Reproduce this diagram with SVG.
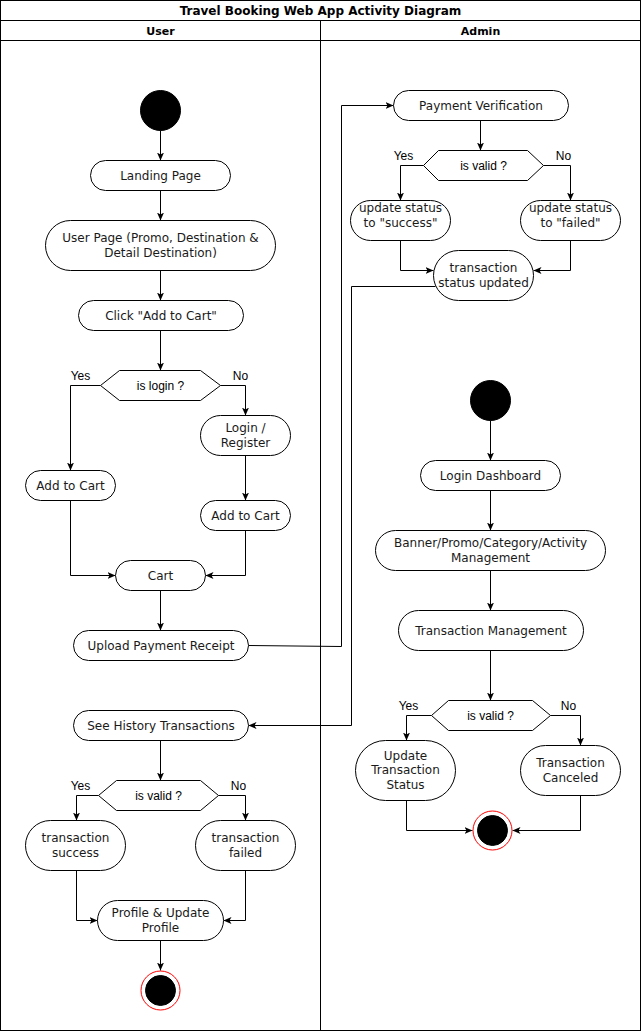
<svg xmlns="http://www.w3.org/2000/svg" width="641" height="1031" viewBox="0 0 641 1031">
<style>
.n{fill:#fff;stroke:#000;stroke-width:1}
.t{font-family:"DejaVu Sans",sans-serif;font-size:12px;fill:#1a1a1a;text-anchor:middle}
.l{font-family:"Liberation Sans",Arial,sans-serif;font-size:12px;fill:#000;text-anchor:middle}
.c{fill:none;stroke:#000;stroke-width:1}
.h{font-family:"DejaVu Sans",sans-serif;font-weight:bold;fill:#000;text-anchor:middle}
</style>
<defs>
<marker id="a" viewBox="0 0 8 8" refX="8" refY="4" markerWidth="8" markerHeight="8" markerUnits="userSpaceOnUse" orient="auto">
<path d="M0,0.5 L8,4 L0,7.5 L2,4 Z" fill="#000"/>
</marker>
</defs>
<rect width="641" height="1031" fill="#fff"/>
<g transform="translate(0.5,0.5)">
<g id="frame">
<rect x="0" y="0" width="640" height="1030" fill="none" stroke="#000"/>
<line x1="0" y1="20" x2="640" y2="20" stroke="#000"/>
<line x1="0" y1="40" x2="640" y2="40" stroke="#000"/>
<line x1="320" y1="20" x2="320" y2="1030" stroke="#000"/>
<text class="h" x="320" y="14.5" font-size="12">Travel Booking Web App Activity Diagram</text>
<text class="h" x="160" y="34" font-size="11">User</text>
<text class="h" x="480" y="34" font-size="11">Admin</text>
</g>
<g id="connectors">
<path class="c" marker-end="url(#a)" d="M160,130 V160"/>
<path class="c" marker-end="url(#a)" d="M160,190 V220"/>
<path class="c" marker-end="url(#a)" d="M160,270 V300"/>
<path class="c" marker-end="url(#a)" d="M160,330 V370"/>
<path class="c" marker-end="url(#a)" d="M100,385 H70 V470"/>
<path class="c" marker-end="url(#a)" d="M220,385 H245 V415"/>
<path class="c" marker-end="url(#a)" d="M245,455 V500"/>
<path class="c" marker-end="url(#a)" d="M70,500 V575 H115"/>
<path class="c" marker-end="url(#a)" d="M245,530 V575 H205"/>
<path class="c" marker-end="url(#a)" d="M160,590 V630"/>
<path class="c" marker-end="url(#a)" d="M248,645 L341,646 V105 H393"/>
<path class="c" marker-end="url(#a)" d="M480,120 V150"/>
<path class="c" marker-end="url(#a)" d="M423,165 H400 V200"/>
<path class="c" marker-end="url(#a)" d="M543,165 H570 V200"/>
<path class="c" marker-end="url(#a)" d="M400,240 V270 H433"/>
<path class="c" marker-end="url(#a)" d="M570,240 V270 H533"/>
<path class="c" marker-end="url(#a)" d="M435,286 H351 V725 H248"/>
<path class="c" marker-end="url(#a)" d="M160,740 V780"/>
<path class="c" marker-end="url(#a)" d="M98,795 H76 V820"/>
<path class="c" marker-end="url(#a)" d="M218,795 H245 V820"/>
<path class="c" marker-end="url(#a)" d="M76,870 V920 H97"/>
<path class="c" marker-end="url(#a)" d="M245,870 V920 H223"/>
<path class="c" marker-end="url(#a)" d="M160,940 V970"/>
<path class="c" marker-end="url(#a)" d="M490,420 V460"/>
<path class="c" marker-end="url(#a)" d="M490,490 V530"/>
<path class="c" marker-end="url(#a)" d="M490,570 V610"/>
<path class="c" marker-end="url(#a)" d="M490,650 V700"/>
<path class="c" marker-end="url(#a)" d="M431,715 H406 V740"/>
<path class="c" marker-end="url(#a)" d="M550,715 H580 V745"/>
<path class="c" marker-end="url(#a)" d="M406,800 V830 H472"/>
<path class="c" marker-end="url(#a)" d="M580,795 V830 H512"/>
<text class="l" x="80" y="379">Yes</text>
<text class="l" x="240" y="379">No</text>
<text class="l" x="403" y="159">Yes</text>
<text class="l" x="563" y="159">No</text>
<text class="l" x="80" y="789">Yes</text>
<text class="l" x="238" y="789">No</text>
<text class="l" x="408" y="709">Yes</text>
<text class="l" x="568" y="709">No</text>
</g>
<g id="userStart"><circle cx="160" cy="110" r="20" fill="#000" stroke="#000"/></g>
<g id="landing"><rect class="n" x="90" y="160" width="140" height="30" rx="15"/><text class="t" x="160" y="179">Landing Page</text></g>
<g id="userPage"><rect class="n" x="45" y="220" width="230" height="50" rx="25"/><text class="t" x="160" y="241.5">User Page (Promo, Destination &amp;</text><text class="t" x="160" y="256.5">Detail Destination)</text></g>
<g id="clickAdd"><rect class="n" x="78" y="300" width="165" height="30" rx="15"/><text class="t" x="160.5" y="319">Click "Add to Cart"</text></g>
<g id="isLogin"><polygon class="n" points="100,385 119,370 200,370 220,385 200,400 119,400"/><text class="l" x="160" y="389">is login ?</text></g>
<g id="addCart1"><rect class="n" x="25" y="470" width="90" height="30" rx="15"/><text class="t" x="70" y="489">Add to Cart</text></g>
<g id="loginReg"><rect class="n" x="200" y="415" width="90" height="40" rx="20"/><text class="t" x="245" y="431.5">Login /</text><text class="t" x="245" y="446.5">Register</text></g>
<g id="addCart2"><rect class="n" x="200" y="500" width="90" height="30" rx="15"/><text class="t" x="245" y="519">Add to Cart</text></g>
<g id="cart"><rect class="n" x="115" y="560" width="90" height="30" rx="15"/><text class="t" x="160" y="579">Cart</text></g>
<g id="upload"><rect class="n" x="73" y="630" width="175" height="30" rx="15"/><text class="t" x="160.5" y="649">Upload Payment Receipt</text></g>
<g id="history"><rect class="n" x="73" y="710" width="175" height="30" rx="15"/><text class="t" x="160.5" y="729">See History Transactions</text></g>
<g id="isValidUser"><polygon class="n" points="98,795 116,780 200,780 218,795 200,810 116,810"/><text class="l" x="158" y="799">is valid ?</text></g>
<g id="txSuccess"><rect class="n" x="25" y="820" width="100" height="50" rx="25"/><text class="t" x="75" y="841.5">transaction</text><text class="t" x="75" y="856.5">success</text></g>
<g id="txFailed"><rect class="n" x="195" y="820" width="100" height="50" rx="25"/><text class="t" x="245" y="841.5">transaction</text><text class="t" x="245" y="856.5">failed</text></g>
<g id="profile"><rect class="n" x="97" y="900" width="126" height="40" rx="20"/><text class="t" x="160" y="916.5">Profile &amp; Update</text><text class="t" x="160" y="931.5">Profile</text></g>
<g id="userEnd"><circle cx="160" cy="990" r="19.5" fill="#fff" stroke="#f00"/><circle cx="160" cy="990" r="15" fill="#000" stroke="#000"/></g>
<g id="payVerif"><rect class="n" x="393" y="90" width="175" height="30" rx="15"/><text class="t" x="480.5" y="109">Payment Verification</text></g>
<g id="isValidPay"><polygon class="n" points="423,165 438,150 527,150 543,165 527,180 438,180"/><text class="l" x="483" y="169">is valid ?</text></g>
<g id="updSuccess"><rect class="n" x="350" y="200" width="100" height="40" rx="20"/><text class="t" x="400" y="211.5">update status</text><text class="t" x="400" y="226.5">to "success"</text></g>
<g id="updFailed"><rect class="n" x="520" y="200" width="100" height="40" rx="20"/><text class="t" x="570" y="211.5">update status</text><text class="t" x="570" y="226.5">to "failed"</text></g>
<g id="txUpdated"><rect class="n" x="433" y="250" width="100" height="50" rx="25"/><text class="t" x="483" y="271.5">transaction</text><text class="t" x="483" y="286.5">status updated</text></g>
<g id="adminStart"><circle cx="490" cy="400" r="20" fill="#000" stroke="#000"/></g>
<g id="loginDash"><rect class="n" x="420" y="460" width="140" height="30" rx="15"/><text class="t" x="490" y="479">Login Dashboard</text></g>
<g id="banner"><rect class="n" x="375" y="530" width="230" height="40" rx="20"/><text class="t" x="490" y="546.5">Banner/Promo/Category/Activity</text><text class="t" x="490" y="561.5">Management</text></g>
<g id="txMgmt"><rect class="n" x="398" y="610" width="185" height="40" rx="20"/><text class="t" x="490.5" y="634">Transaction Management</text></g>
<g id="isValidAdmin"><polygon class="n" points="431,715 448,700 532,700 550,715 532,730 448,730"/><text class="l" x="490" y="719">is valid ?</text></g>
<g id="updTxStatus"><rect class="n" x="355" y="740" width="100" height="60" rx="30"/><text class="t" x="405" y="759">Update</text><text class="t" x="405" y="773.5">Transaction</text><text class="t" x="405" y="788">Status</text></g>
<g id="txCanceled"><rect class="n" x="520" y="745" width="100" height="50" rx="25"/><text class="t" x="570" y="766.5">Transaction</text><text class="t" x="570" y="781.5">Canceled</text></g>
<g id="adminEnd"><circle cx="492" cy="830" r="19.5" fill="#fff" stroke="#f00"/><circle cx="492" cy="830" r="15" fill="#000" stroke="#000"/></g>
</g>
</svg>
